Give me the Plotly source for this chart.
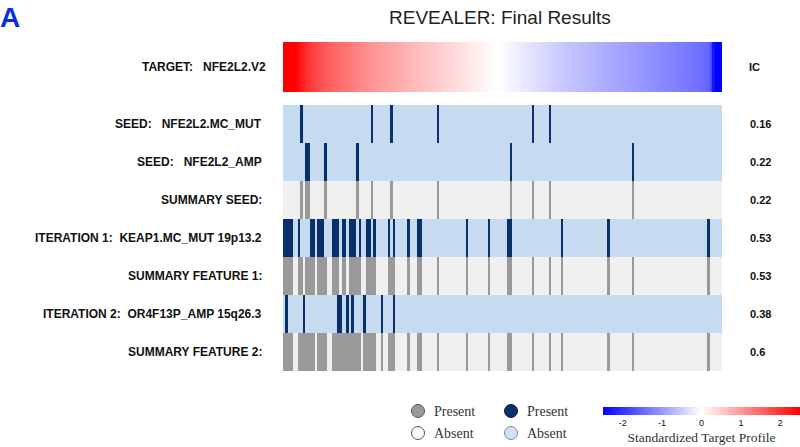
import plotly.graph_objects as go

# ---------------- data ----------------
n_samples = 180

target_name = "TARGET:\u00a0\u00a0\u00a0NFE2L2.V2"
# standardized target profile (sorted)
target_values = [
    3.6, 3.1, 2.9, 2.7, 2.6, 2.45, 2.35, 2.25, 2.15, 2.05,
    1.98, 1.92, 1.86, 1.81, 1.76, 1.72, 1.68, 1.64, 1.60, 1.56,
    1.52, 1.49, 1.46, 1.43, 1.40, 1.37, 1.34, 1.31, 1.28, 1.25,
    1.22, 1.19, 1.17, 1.14, 1.12, 1.09, 1.07, 1.04, 1.02, 0.99,
    0.97, 0.95, 0.92, 0.90, 0.88, 0.86, 0.84, 0.81, 0.79, 0.77,
    0.75, 0.73, 0.71, 0.69, 0.67, 0.65, 0.63, 0.61, 0.59, 0.57,
    0.55, 0.53, 0.51, 0.49, 0.47, 0.45, 0.43, 0.41, 0.39, 0.37,
    0.35, 0.33, 0.31, 0.29, 0.27, 0.25, 0.23, 0.21, 0.19, 0.17,
    0.15, 0.13, 0.11, 0.09, 0.07, 0.05, 0.03, 0.01, -0.01, -0.03,
    -0.05, -0.07, -0.09, -0.11, -0.13, -0.15, -0.17, -0.19, -0.21, -0.23,
    -0.25, -0.27, -0.29, -0.31, -0.33, -0.35, -0.37, -0.39, -0.41, -0.43,
    -0.45, -0.47, -0.49, -0.51, -0.53, -0.55, -0.57, -0.59, -0.60, -0.61,
    -0.62, -0.64, -0.66, -0.67, -0.69, -0.70, -0.72, -0.73, -0.75, -0.76,
    -0.78, -0.79, -0.81, -0.82, -0.84, -0.85, -0.87, -0.88, -0.90, -0.91,
    -0.93, -0.94, -0.96, -0.97, -0.99, -1.00, -1.02, -1.03, -1.05, -1.06,
    -1.08, -1.09, -1.11, -1.12, -1.14, -1.15, -1.17, -1.18, -1.20, -1.21,
    -1.23, -1.24, -1.26, -1.27, -1.29, -1.30, -1.32, -1.34, -1.36, -1.38,
    -1.40, -1.42, -1.45, -1.48, -1.52, -1.8, -2.3, -2.8, -3.0, -3.2,
]

# sample indices where each feature is present
seed1_present = [7, 36, 44, 63, 102, 109]
seed2_present = [9, 10, 17, 30, 93, 143]
iter1_present = [0, 1, 2, 3, 6, 11, 12, 14, 15, 16, 20, 21, 22, 24, 25, 27, 28, 29,
                 31, 34, 35, 37, 43, 45, 51, 55, 56, 75, 84, 92, 93, 114, 133, 174]
iter2_present = [1, 8, 22, 23, 26, 28, 33, 40, 45]

row_labels = [
    "SEED:\u00a0\u00a0\u00a0NFE2L2.MC_MUT",
    "SEED:\u00a0\u00a0\u00a0NFE2L2_AMP",
    "SUMMARY SEED:",
    "ITERATION 1:\u00a0\u00a0KEAP1.MC_MUT 19p13.2",
    "SUMMARY FEATURE 1:",
    "ITERATION 2:\u00a0\u00a0OR4F13P_AMP 15q26.3",
    "SUMMARY FEATURE 2:",
]
ic_values = ["0.16", "0.22", "0.22", "0.53", "0.53", "0.38", "0.6"]
colorbar_ticks = [-2, -1, 0, 1, 2]
colorbar_ticktext = ["-2", "-1", "0", "1", "2"]

# ---------------- build rows ----------------
summary_seed = sorted(set(seed1_present) | set(seed2_present))
summary1 = sorted(set(summary_seed) | set(iter1_present))
summary2 = sorted(set(summary1) | set(iter2_present))

rows = [
    (seed1_present, False),
    (seed2_present, False),
    (summary_seed, True),
    (iter1_present, False),
    (summary1, True),
    (iter2_present, False),
    (summary2, True),
]
z = []
for present, is_summary in rows:
    base = 2 if is_summary else 0
    z.append([base + (1 if i in present else 0) for i in range(n_samples)])

samples = list(range(n_samples))

FEAT_ABS, FEAT_PRES = "#c6dbef", "#08306b"
SUM_ABS, SUM_PRES = "#f0f0f0", "#999999"
binary_scale = [
    [0, FEAT_ABS], [0.25, FEAT_ABS], [0.25, FEAT_PRES], [0.5, FEAT_PRES],
    [0.5, SUM_ABS], [0.75, SUM_ABS], [0.75, SUM_PRES], [1, SUM_PRES],
]

# plot-area geometry in pixels
L, R, T, B = 283, 722, 42, 371
PW, PH = R - L, B - T


def px(xp):
    return (xp - L) / PW


def py(yp):
    return (B - yp) / PH


fig = go.Figure()

fig.add_trace(go.Heatmap(
    x=samples, y=list(range(len(rows))), z=z,
    zmin=0, zmax=3, colorscale=binary_scale, showscale=False,
    xaxis="x", yaxis="y", hoverinfo="skip",
))

fig.add_trace(go.Heatmap(
    x=samples, y=[0], z=[target_values],
    zmin=-2.5, zmax=2.5,
    colorscale=[[0, "#0000ff"], [0.5, "#ffffff"], [1, "#ff0000"]],
    xaxis="x", yaxis="y2", hoverinfo="skip",
    colorbar=dict(
        orientation="h", lenmode="pixels", len=197,
        thicknessmode="pixels", thickness=8,
        x=px(701.5), xanchor="center",
        y=py(407), yanchor="top",
        xpad=0, ypad=0, outlinewidth=0,
        tickvals=colorbar_ticks, ticktext=colorbar_ticktext, ticks="",
        tickfont=dict(family="Liberation Sans", size=9, color="#111"),
        title=dict(text="Standardized Target Profile", side="bottom",
                   font=dict(family="Liberation Serif", size=13.5, color="#333")),
    ),
))

lab_font = dict(family="Liberation Sans", size=12, color="#111")
ic_font = dict(family="Liberation Sans", size=11, color="#111")
ann = []
for i, lab in enumerate(row_labels):
    ann.append(dict(text="<b>%s</b>" % lab, x=px(264), xref="paper",
                    y=i, yref="y", xanchor="right", yanchor="middle",
                    showarrow=False, font=lab_font))
    ann.append(dict(text="<b>%s</b>" % ic_values[i], x=px(748), xref="paper",
                    y=i, yref="y", xanchor="left", yanchor="middle",
                    showarrow=False, font=ic_font))
ann.append(dict(text="<b>%s</b>" % target_name, x=px(268), xref="paper",
                y=0, yref="y2", xanchor="right", yanchor="middle",
                showarrow=False, font=lab_font))
ann.append(dict(text="<b>IC</b>", x=px(747), xref="paper",
                y=0, yref="y2", xanchor="left", yanchor="middle",
                showarrow=False, font=ic_font))
ann.append(dict(text="REVEALER: Final Results", x=px(500), xref="paper",
                y=py(18), yref="paper", xanchor="center", yanchor="middle",
                showarrow=False, font=dict(family="Liberation Sans", size=19, color="#222")))
ann.append(dict(text="<b>A</b>", x=px(-2), xref="paper", y=py(0), yref="paper",
                xanchor="left", yanchor="top", showarrow=False,
                font=dict(family="Liberation Sans", size=28, color="#0a2fe6")))

# legend swatches
legend_items = [
    (418, 411, SUM_PRES, "#555555", "Present"),
    (418, 433, "#fafafa", "#555555", "Absent"),
    (511, 411, FEAT_PRES, "#1a1a2e", "Present"),
    (511, 433, "#d3e1f5", "#7a88aa", "Absent"),
]
shapes = []
for cx, cy, fill, line, txt in legend_items:
    shapes.append(dict(type="circle", xref="paper", yref="paper",
                       xsizemode="pixel", ysizemode="pixel",
                       xanchor=px(cx), yanchor=py(cy),
                       x0=-6.5, x1=6.5, y0=-6.5, y1=6.5,
                       fillcolor=fill, line=dict(color=line, width=1)))
    ann.append(dict(text=txt, x=px(cx + 14), xref="paper",
                    y=py(cy), yref="paper", xanchor="left", yanchor="middle",
                    showarrow=False,
                    font=dict(family="Liberation Serif", size=14, color="#333")))

fig.update_layout(
    width=800, height=447,
    margin=dict(l=L, r=800 - R, t=T, b=447 - B, autoexpand=False),
    paper_bgcolor="white", plot_bgcolor="white",
    xaxis=dict(range=[-0.5, n_samples - 0.5], visible=False),
    yaxis=dict(domain=[0, py(105)], range=[6.5, -0.5], visible=False),
    yaxis2=dict(domain=[py(92), 1], range=[0.5, -0.5], visible=False, anchor="x"),
    annotations=ann,
    shapes=shapes,
    showlegend=False,
)

# remove the browser's default 8px page margin so the figure sits at (0, 0)
fig.write_html(
    "out.html",
    config={"displayModeBar": False},
    post_script="document.body.style.margin='0';document.body.style.overflow='hidden';",
)
